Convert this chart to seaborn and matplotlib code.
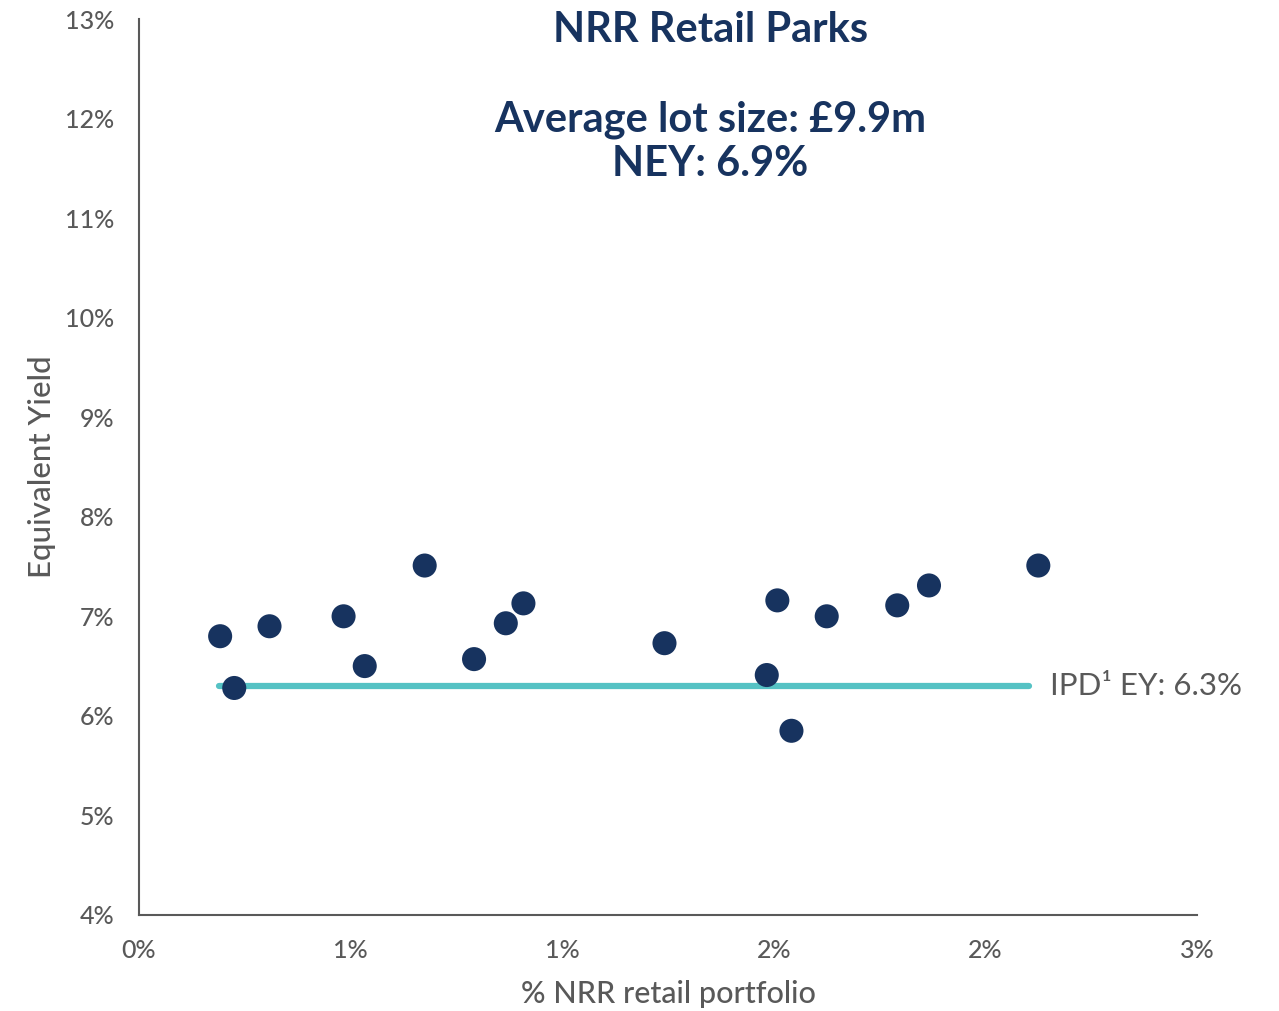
import matplotlib
matplotlib.use("Agg")
import matplotlib.pyplot as plt
import matplotlib.ticker as mticker
import seaborn as sns
import pandas as pd

# Portfolio share (%) and equivalent yield (%) for each retail park
portfolio_share = [0.23, 0.27, 0.37, 0.58, 0.64, 0.81, 0.95, 1.04, 1.09,
                   1.49, 1.78, 1.81, 1.85, 1.95, 2.15, 2.24, 2.55]
equivalent_yield = [6.80, 6.28, 6.90, 7.00, 6.50, 7.51, 6.57, 6.93, 7.13,
                    6.73, 6.41, 7.16, 5.85, 7.00, 7.11, 7.31, 7.51]

# IPD benchmark equivalent yield, drawn across the portfolio range
ipd_x = [0.227, 2.523]
ipd_yield = [6.3, 6.3]

x_ticks = [0.0, 0.6, 1.2, 1.8, 2.4, 3.0]
y_ticks = [4, 5, 6, 7, 8, 9, 10, 11, 12, 13]

title = "NRR Retail Parks"
subtitle = "Average lot size: £9.9m\nNEY: 6.9%"
ipd_label = "IPD¹ EY: 6.3%"

NAVY = "#17335f"
TEAL = "#55c2c4"
GREY = "#595959"

sns.set_theme(style="white")
plt.rcParams["font.family"] = ["Lato", "DejaVu Sans"]

df = pd.DataFrame({"share": portfolio_share, "ey": equivalent_yield})
ipd = pd.DataFrame({"share": ipd_x, "ey": ipd_yield})

fig = plt.figure(figsize=(12.79, 10.11), dpi=100)
ax = fig.add_axes([0.1087, 0.0950, 0.8272, 0.8862])

sns.lineplot(data=ipd, x="share", y="ey", ax=ax, color=TEAL, linewidth=4.5,
             solid_capstyle="round", zorder=2)
sns.scatterplot(data=df, x="share", y="ey", ax=ax, color=NAVY, s=300,
                edgecolor="none", zorder=3)

ax.set_xlim(0, 3.0)
ax.set_ylim(4, 13)
ax.set_xticks(x_ticks)
ax.set_yticks(y_ticks)
ax.xaxis.set_major_formatter(mticker.FuncFormatter(lambda v, p: f"{v:.0f}%"))
ax.yaxis.set_major_formatter(mticker.FuncFormatter(lambda v, p: f"{v:.0f}%"))
ax.tick_params(axis="x", length=0, labelsize=18, labelcolor=GREY, pad=17)
ax.tick_params(axis="y", length=0, labelsize=18, labelcolor=GREY, pad=18)
for lbl in ax.get_xticklabels() + ax.get_yticklabels():
    lbl.set_fontweight("medium")

for side in ("top", "right"):
    ax.spines[side].set_visible(False)
for side in ("left", "bottom"):
    ax.spines[side].set_color(GREY)
    ax.spines[side].set_linewidth(1.5)

ax.set_xlabel("% NRR retail portfolio", fontsize=22, color=GREY,
              fontweight="medium", va="center")
ax.set_ylabel("Equivalent Yield", fontsize=22.5, color=GREY,
              fontweight="medium", va="center")
ax.xaxis.set_label_coords(0.5, -0.088)
ax.yaxis.set_label_coords(-0.092, 0.5)

ax.text(0.54, 0.988, title, transform=ax.transAxes, ha="center", va="center",
        fontsize=30, fontweight="bold", color=NAVY)
ax.text(0.54, 0.863, subtitle, transform=ax.transAxes, ha="center", va="center",
        fontsize=30, fontweight="bold", color=NAVY, linespacing=1.2)
ax.text(ipd_x[1] + 0.06, ipd_yield[0], ipd_label, ha="left", va="center",
        fontsize=22.5, color=GREY)

fig.savefig("out.png", dpi=100)
